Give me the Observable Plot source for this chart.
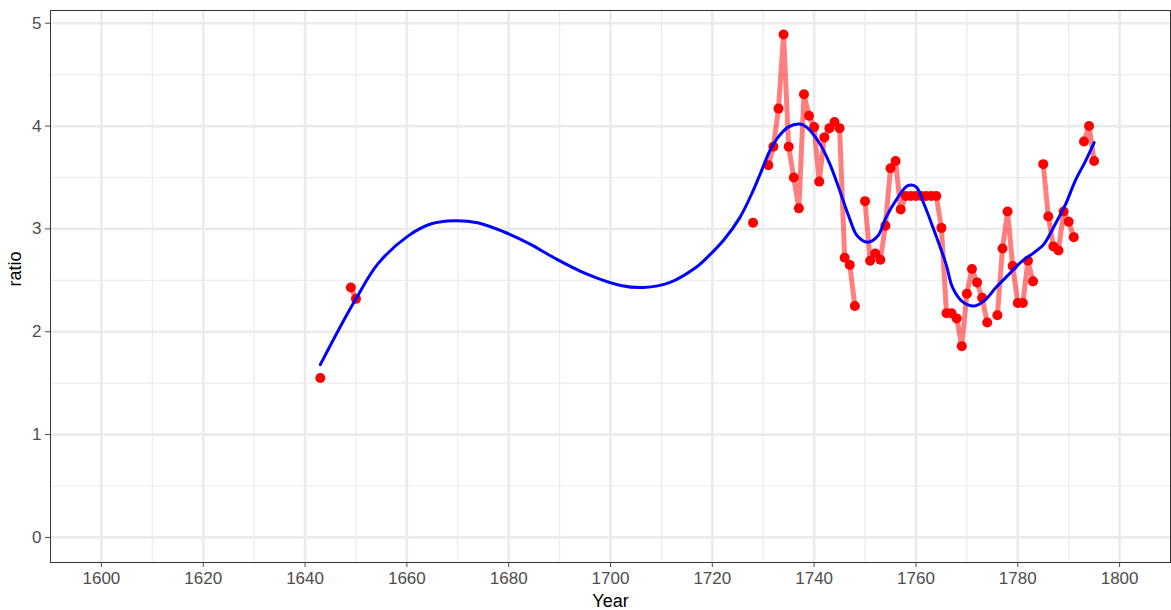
<!DOCTYPE html>
<html><head><meta charset="utf-8">
<script src="https://cdn.jsdelivr.net/npm/d3@7"></script>
<script src="https://cdn.jsdelivr.net/npm/@observablehq/plot@0.6"></script>
<style>body{margin:0;background:#fff;overflow:hidden}</style>
</head><body><div id="chart"></div>
<script>
const years = [1643,1649,1650,1728,1731,1732,1733,1734,1735,1736,1737,1738,1739,1740,1741,1742,1743,1744,1745,1746,1747,1748,1750,1751,1752,1753,1754,1755,1756,1757,1758,1759,1760,1761,1762,1763,1764,1765,1766,1767,1768,1769,1770,1771,1772,1773,1774,1776,1777,1778,1779,1780,1781,1782,1783,1785,1786,1787,1788,1789,1790,1791,1793,1794,1795];
const ratios = [1.55,2.43,2.32,3.06,3.62,3.80,4.17,4.89,3.80,3.50,3.20,4.31,4.10,3.99,3.46,3.89,3.98,4.04,3.98,2.72,2.65,2.25,3.27,2.69,2.76,2.70,3.03,3.59,3.66,3.19,3.32,3.32,3.32,3.32,3.32,3.32,3.32,3.01,2.18,2.18,2.13,1.86,2.37,2.61,2.48,2.33,2.09,2.16,2.81,3.17,2.64,2.28,2.28,2.69,2.49,3.63,3.12,2.83,2.79,3.17,3.07,2.92,3.85,4.00,3.66];
const smoothYears = [1643,1646.5,1650,1654.3,1660.2,1664.8,1669.3,1673.9,1679.1,1684.3,1688.9,1695.4,1702,1706.5,1711.7,1716.9,1718.3,1722.2,1725.4,1728,1729.7,1731.3,1732.9,1734.9,1737.2,1738.5,1741.1,1743.1,1744.9,1746.9,1748.5,1750.5,1752.5,1754.1,1756.1,1758.4,1760,1761.6,1763.3,1765.9,1767.2,1769.2,1771.4,1773.4,1775.7,1778.3,1780.9,1783.2,1785.1,1787.4,1789.4,1791.3,1793.3,1795];
const smoothRatios = [1.68,2.01,2.32,2.66,2.93,3.05,3.08,3.06,2.97,2.85,2.72,2.56,2.45,2.43,2.48,2.63,2.69,2.89,3.11,3.37,3.57,3.76,3.89,3.99,4.02,3.99,3.83,3.63,3.39,3.11,2.93,2.87,2.93,3.11,3.28,3.42,3.41,3.24,3.02,2.66,2.43,2.29,2.25,2.30,2.43,2.56,2.69,2.77,2.85,3.05,3.24,3.47,3.66,3.84];
const xTicks = [1600,1620,1640,1660,1680,1700,1720,1740,1760,1780,1800];
const xMinor = [1610,1630,1650,1670,1690,1710,1730,1750,1770,1790];
const yTicks = [0,1,2,3,4,5];
const yMinor = [0.5,1.5,2.5,3.5,4.5];

const pts = years.map((y,i)=>({year:y, ratio:ratios[i]}));
const lineData = [];
pts.forEach((p,i)=>{
  if (i>0 && p.year - pts[i-1].year > 1) lineData.push({year:(p.year+pts[i-1].year)/2, ratio:NaN});
  lineData.push(p);
});
const smooth = smoothYears.map((y,i)=>({year:y, ratio:smoothRatios[i]}));

const chart = Plot.plot({
  width: 1171, height: 610,
  marginLeft: 50, marginRight: 1, marginTop: 10, marginBottom: 48,
  style: {fontFamily: "'Liberation Sans', Arial, sans-serif", fontSize: "17px", background: "#fff"},
  x: {domain: [1590, 1810], label: null},
  y: {domain: [-0.244, 5.124], label: null},
  marks: [
    Plot.ruleX(xMinor, {stroke: "#EBEBEB", strokeWidth: 1.2}),
    Plot.ruleY(yMinor, {stroke: "#EBEBEB", strokeWidth: 1.2}),
    Plot.ruleX(xTicks, {stroke: "#EBEBEB", strokeWidth: 2.6}),
    Plot.ruleY(yTicks, {stroke: "#EBEBEB", strokeWidth: 2.6}),
    Plot.line(lineData, {x: "year", y: "ratio", stroke: "red", strokeOpacity: 0.5, strokeWidth: 5}),
    Plot.dot(pts, {x: "year", y: "ratio", fill: "red", r: 5}),
    Plot.line(smooth, {x: "year", y: "ratio", stroke: "#0000FF", strokeWidth: 3, curve: "catmull-rom"}),
    Plot.frame({stroke: "#333333", strokeWidth: 1}),
    Plot.axisX(xTicks, {tickFormat: d => String(d), tickSize: 5, tickPadding: 4, color: "#4D4D4D", fontSize: 17, label: null}),
    Plot.axisY(yTicks, {tickFormat: d => String(d), tickSize: 5, tickPadding: 4, color: "#4D4D4D", fontSize: 17, label: null}),
    Plot.text(["Year"], {frameAnchor: "bottom", dy: 39, fontSize: 18, lineAnchor: "middle", fill: "black"}),
    Plot.text(["ratio"], {frameAnchor: "left", dx: -35, rotate: -90, fontSize: 18, fill: "black"})
  ]
});
document.getElementById("chart").appendChild(chart);
</script>
</body></html>
